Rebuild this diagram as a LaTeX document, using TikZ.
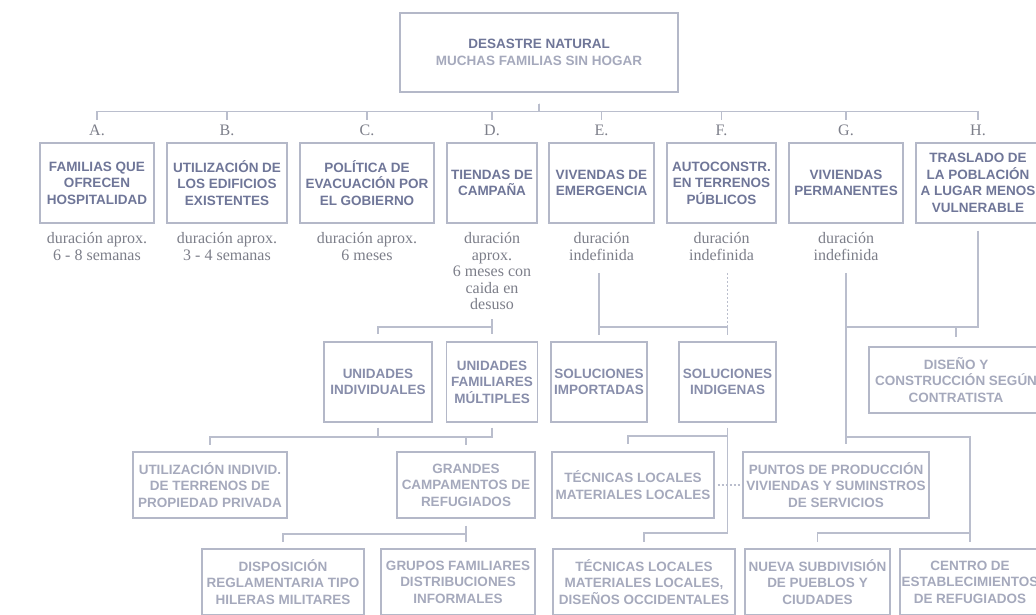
\documentclass[tikz,border=0pt]{standalone}
\usepackage{fontspec}
\setmainfont{Liberation Serif}
\setsansfont{Liberation Sans}
\usetikzlibrary{positioning}
\definecolor{marco}{HTML}{B4B8C8}
\definecolor{linea}{HTML}{BABECD}
\definecolor{oscuro}{HTML}{6F7698}
\definecolor{medio}{HTML}{878DAA}
\definecolor{claro}{HTML}{A5A9BC}
\definecolor{gris}{HTML}{7C7E89}

\begin{document}
\begin{tikzpicture}[x=1pt,y=-1pt]
	\tikzset{caja/.style={draw=marco,line width=1.3pt,inner sep=0pt,align=center,
			font=\sffamily\bfseries\fontsize{13.5}{16.5}\selectfont},
		nivel1/.style={caja,text=oscuro,minimum height=80pt},
		nivel2/.style={caja,text=medio,minimum height=80pt},
		nivel3/.style={caja,text=claro,minimum height=66pt},
		duracion/.style={font=\fontsize{16}{16.5}\selectfont,text=gris,align=center,inner sep=0pt},
		letra/.style={font=\fontsize{16}{16}\selectfont,text=gris,inner sep=0pt},
		conn/.style={draw=linea,line width=1.1pt},
		punteado/.style={conn,dash pattern=on 2pt off 2pt}}
	\clip (0,0) rectangle (1036,614);
	\node[caja,minimum width=278pt,minimum height=79pt] (desastre) at (539,52.5)
		{\textcolor{oscuro}{DESASTRE NATURAL}\\\textcolor{claro}{MUCHAS FAMILIAS SIN HOGAR}};
	\foreach \n/\x/\w/\t in {
		A/97/114/{FAMILIAS QUE\\OFRECEN\\HOSPITALIDAD},
		B/227/120/{UTILIZACIÓN DE\\LOS EDIFICIOS\\EXISTENTES},
		C/367/134/{POLÍTICA DE\\EVACUACIÓN POR\\EL GOBIERNO},
		D/492/90/{TIENDAS DE\\CAMPAÑA},
		E/601.5/105/{VIVENDAS DE\\EMERGENCIA},
		F/721.5/109/{AUTOCONSTR.\\EN TERRENOS\\PÚBLICOS},
		G/846/114/{VIVIENDAS\\PERMANENTES},
		H/978/124/{TRASLADO DE\\LA POBLACIÓN\\A LUGAR MENOS\\VULNERABLE}}{
		\node[nivel1,minimum width=\w pt] (\n) at (\x,183) {\t};
		\node[letra] (l\n) at (\x,130) {\n.};
		\draw[conn,shorten <=11pt,shorten >=4pt] (desastre.south) -- ++(0,19) -| (l\n.north);
	}
	\node[duracion,below=9pt of A] (dA) {duración aprox.\\6 - 8 semanas};
	\node[duracion,below=9pt of B] (dB) {duración aprox.\\3 - 4 semanas};
	\node[duracion,below=9pt of C] (dC) {duración aprox.\\6 meses};
	\node[duracion,below=9pt of D] (dD) {duración\\aprox.\\6 meses con\\caida en\\desuso};
	\node[duracion,below=9pt of E] (dE) {duración\\indefinida};
	\node[duracion,below=9pt of F] (dF) {duración\\indefinida};
	\node[duracion,below=9pt of G] (dG) {duración\\indefinida};

	\node[nivel2,minimum width=108pt] (individuales) at (378,382) {UNIDADES\\INDIVIDUALES};
	\node[nivel2,minimum width=91pt] (multiples) at (492,382) {UNIDADES\\FAMILIARES\\MÚLTIPLES};
	\node[nivel2,minimum width=96pt] (importadas) at (599,382) {SOLUCIONES\\IMPORTADAS};
	\node[nivel2,minimum width=97pt] (indigenas) at (727.5,382) {SOLUCIONES\\INDIGENAS};
	\node[nivel3,minimum width=174pt] (diseno) at (956,380) {DISEÑO Y\\CONSTRUCCIÓN SEGÚN\\CONTRATISTA};

	\node[nivel3,minimum width=154pt] (privada) at (210,485) {UTILIZACIÓN INDIVID.\\DE TERRENOS DE\\PROPIEDAD PRIVADA};
	\node[nivel3,minimum width=138pt] (campamentos) at (466,485) {GRANDES\\CAMPAMENTOS DE\\REFUGIADOS};
	\node[nivel3,minimum width=162pt] (tecnicas) at (633,485) {TÉCNICAS LOCALES\\MATERIALES LOCALES};
	\node[nivel3,minimum width=186pt] (puntos) at (836,485) {PUNTOS DE PRODUCCIÓN\\VIVIENDAS Y SUMINSTROS\\DE SERVICIOS};

	\node[nivel3,minimum width=162pt] (hileras) at (283,582) {DISPOSICIÓN\\REGLAMENTARIA TIPO\\HILERAS MILITARES};
	\node[nivel3,minimum width=154pt] (grupos) at (458,582) {GRUPOS FAMILIARES\\DISTRIBUCIONES\\INFORMALES};
	\node[nivel3,minimum width=182pt] (occidentales) at (644,582) {TÉCNICAS LOCALES\\MATERIALES LOCALES,\\DISEÑOS OCCIDENTALES};
	\node[nivel3,minimum width=145pt] (subdivision) at (817.5,582) {NUEVA SUBDIVISIÓN\\DE PUEBLOS Y\\CIUDADES};
	\node[nivel3,minimum width=140pt] (centro) at (970,582) {CENTRO DE\\ESTABLECIMIENTOS\\DE REFUGIADOS};

	% tiendas
	\draw[conn,shorten <=9pt,shorten >=7pt] (multiples.north |- dD.south) -- (multiples.north);
	\draw[conn,shorten >=7pt] (multiples.north |- 0,327) -| (individuales.north);
	\draw[conn,shorten <=5pt] (individuales.south) -- (individuales.south |- 0,437);
	\draw[conn,shorten <=5pt,shorten >=6pt] (multiples.south) -- (multiples.south |- 0,437) -| (privada.north);
	\draw[conn,shorten >=6pt] (campamentos.north |- 0,437) -- (campamentos.north);
	\draw[conn,shorten <=7pt,shorten >=6pt] (campamentos.south) -- (campamentos.south |- grupos.north);
	\draw[conn,shorten >=6pt] (campamentos.south |- 0,534) -| (hileras.north);
	% emergencia, autoconstr.
	\draw[conn,shorten <=12pt,shorten >=6pt] (importadas.north |- dE.south) -- (importadas.north);
	\draw[conn,shorten >=6pt] (importadas.north |- 0,327) -| (indigenas.north);
	\draw[punteado,shorten <=12pt] (indigenas.north |- dF.south) -- (indigenas.north |- 0,327);
	\draw[conn,shorten <=5pt,shorten >=6pt] (indigenas.south) -- (indigenas.south |- 0,533) -| (occidentales.north);
	\draw[conn,shorten >=7pt] (indigenas.south |- 0,436) -| ([xshift=-5pt]tecnicas.north);
	\draw[punteado,shorten <=3pt,shorten >=2pt] (tecnicas.east) -- (puntos.west);
	% permanentes, traslado
	\draw[conn,shorten <=12pt,shorten >=7pt] (dG.south) -- (dG.south |- puntos.north);
	\draw[conn,shorten <=7pt] (H.south) |- (dG.south |- 0,327);
	\draw[conn,shorten >=9pt] (diseno.north |- 0,327) -- (diseno.north);
	\draw[conn,shorten >=6pt] (dG.south |- 0,437) -| (centro.north);
	\draw[conn,shorten >=6pt] (centro.north |- 0,533) -| (subdivision.north);
\end{tikzpicture}
\end{document}
